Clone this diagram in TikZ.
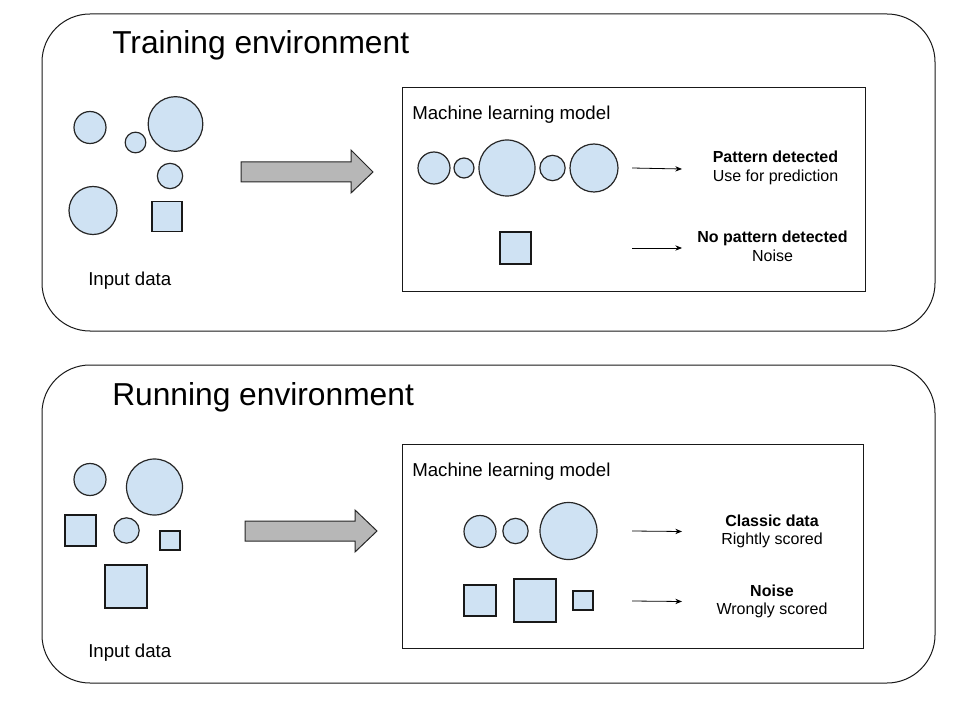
\documentclass[tikz,border=0pt]{standalone}
\usepackage{fontspec}
\setmainfont{Liberation Sans}
\usetikzlibrary{arrows.meta}
\definecolor{fillblue}{HTML}{CFE2F3}
\definecolor{arrowgray}{HTML}{B7B7B7}
\tikzset{
  envbox/.style={draw=black!90, line width=0.75pt, rounded corners=36pt},
  mlbox/.style={draw=black!90, line width=0.75pt},
  blob/.style={circle, draw=black!85, fill=fillblue, line width=0.9pt, inner sep=0pt},
  sq/.style={rectangle, draw=black!90, fill=fillblue, line width=0.9pt, inner sep=0pt},
  bigarrow/.style={draw=black!85, fill=arrowgray, line width=0.75pt},
  smallarrow/.style={-{Stealth[length=5pt,width=4pt]}, line width=0.6pt},
  titletext/.style={anchor=base west, font=\fontsize{23.8}{28}\selectfont, inner sep=0pt},
  lbltext/.style={anchor=base west, font=\fontsize{14}{17}\selectfont, inner sep=0pt},
  headtext/.style={anchor=base, font=\bfseries\fontsize{12}{14.4}\selectfont, inner sep=0pt},
  subtext/.style={anchor=base, font=\fontsize{12}{14.4}\selectfont, inner sep=0pt},
}
\begin{document}
\begin{tikzpicture}[x=0.75pt, y=-0.75pt]
\useasboundingbox (0,0) rectangle (960,720);

% ===== Training environment =====
\draw[envbox] (42,14) rectangle (935,331);
\node[titletext] (ttitle) at (112,54) {Training environment};

\node[blob, minimum size=24pt] (ti1) at (90,127.5) {};
\node[blob, minimum size=15.5pt] (ti2) at (135.5,142.5) {};
\node[blob, minimum size=41pt] (ti3) at (175.5,124) {};
\node[blob, minimum size=19pt] (ti4) at (170,176) {};
\node[blob, minimum size=36pt] (ti5) at (93,210.5) {};
\node[sq, minimum width=22.5pt, minimum height=23pt] (ti6) at (167,216.5) {};
\node[lbltext] (tinput) at (88,286) {Input data};

\draw[bigarrow] (241,162) -- (351,162) -- (351,150) -- (373,172) -- (351,193) -- (351,182) -- (241,182) -- cycle;

\draw[mlbox] (402,88) rectangle (865,292);
\node[lbltext] (tml) at (412,120) {Machine learning model};

\node[blob, minimum size=24pt] (tm1) at (434,168) {};
\node[blob, minimum size=15pt] (tm2) at (464,168) {};
\node[blob, minimum size=42pt] (tm3) at (507,168) {};
\node[blob, minimum size=19pt] (tm4) at (552.5,168) {};
\node[blob, minimum size=36pt] (tm5) at (594,168) {};
\node[sq, minimum width=23.25pt, minimum height=24pt] (tm6) at (515.5,248) {};

\coordinate (ta1s) at (632,168);
\coordinate (ta1e) at (682,169);
\draw[smallarrow] (ta1s) -- (ta1e);
\coordinate (ta2s) at (632,248);
\coordinate (ta2e) at (682,248);
\draw[smallarrow] (ta2s) -- (ta2e);

\node[headtext] (tr1) at (775.5,163) {Pattern detected};
\node[subtext] (tr1b) at (775.5,182) {Use for prediction};
\node[headtext] (tr2) at (772.5,243) {No pattern detected};
\node[subtext] (tr2b) at (772.5,262) {Noise};

% ===== Running environment =====
\draw[envbox] (42,365) rectangle (935,683);
\node[titletext] (rtitle) at (112,405) {Running environment};

\node[blob, minimum size=24pt] (ri1) at (90,479.5) {};
\node[blob, minimum size=42pt] (ri2) at (154.5,487) {};
\node[sq, minimum size=23.25pt] (ri3) at (80.5,530.5) {};
\node[blob, minimum size=19pt] (ri4) at (126.5,530.5) {};
\node[sq, minimum width=15pt, minimum height=14.25pt] (ri5) at (170,540.5) {};
\node[sq, minimum width=31.5pt, minimum height=32.25pt] (ri6) at (126,586.5) {};
\node[lbltext] (rinput) at (88,657) {Input data};

\draw[bigarrow] (245,521) -- (355,521) -- (355,510) -- (377,531) -- (355,552) -- (355,541) -- (245,541) -- cycle;

\draw[mlbox] (402,444) rectangle (863,648);
\node[lbltext] (rml) at (412,476) {Machine learning model};

\node[blob, minimum size=24pt] (rm1) at (480,531.5) {};
\node[blob, minimum size=19pt] (rm2) at (515.5,531) {};
\node[blob, minimum size=42.75pt] (rm3) at (568.5,531) {};
\node[sq, minimum width=24pt, minimum height=23.25pt] (rm4) at (480,600.5) {};
\node[sq, minimum width=31.5pt, minimum height=32.25pt] (rm5) at (535,600.5) {};
\node[sq, minimum width=15pt, minimum height=14.25pt] (rm6) at (583,600.5) {};

\coordinate (ra1s) at (632,531);
\coordinate (ra1e) at (682,531.5);
\draw[smallarrow] (ra1s) -- (ra1e);
\coordinate (ra2s) at (632,601);
\coordinate (ra2e) at (682,601.5);
\draw[smallarrow] (ra2s) -- (ra2e);

\node[headtext] (rr1) at (772,526) {Classic data};
\node[subtext] (rr1b) at (772,544) {Rightly scored};
\node[headtext] (rr2) at (772,596) {Noise};
\node[subtext] (rr2b) at (772,614) {Wrongly scored};
\end{tikzpicture}
\end{document}
